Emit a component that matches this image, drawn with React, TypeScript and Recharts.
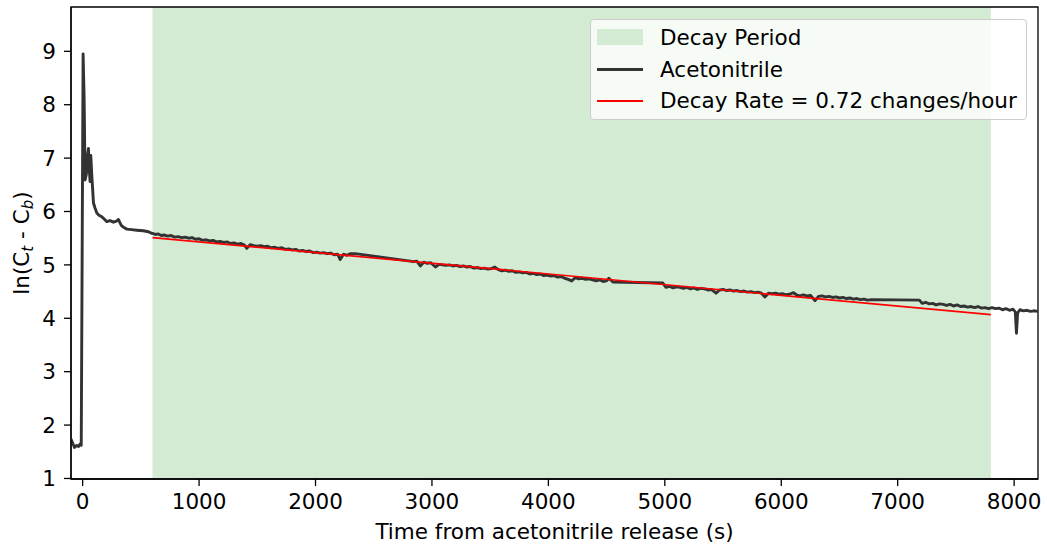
import React from 'react';
import {
  ComposedChart,
  Line,
  XAxis,
  YAxis,
  ReferenceArea,
  Legend,
} from 'recharts';

// Release phase: baseline, injection spike and early mixing (seconds, ln value)
const releaseTimes = [
  -100, -85, -70, -60, -50, -35, -20, -12, 4, 13, 21, 32, 42, 50, 58, 64, 70, 78, 93,
  107, 122, 140, 165, 185, 208, 235, 265, 290, 308, 322, 336, 355, 380, 420, 465, 520, 565, 594,
];
const releaseValues = [
  1.74, 1.66, 1.58, 1.6, 1.62, 1.6, 1.65, 1.62, 8.95, 8.09, 6.59, 6.7, 7.05, 7.18, 6.75, 6.56, 7.05, 6.7, 6.16,
  6.06, 5.97, 5.93, 5.9, 5.86, 5.81, 5.83, 5.8, 5.82, 5.85, 5.78, 5.73, 5.7, 5.67, 5.66, 5.65, 5.64, 5.62, 5.59,
];

// Decay phase (inside the shaded period)
const decayTimes = [
  600, 625, 650, 675, 700, 730, 760, 790, 820, 850, 880, 910, 940, 970, 1000, 1030, 1060, 1090, 1120, 1150,
  1180, 1210, 1240, 1270, 1300, 1330, 1360, 1390, 1410, 1440, 1470, 1500, 1530, 1560, 1590, 1620, 1650, 1680,
  1710, 1740, 1770, 1800, 1830, 1860, 1890, 1920, 1950, 1980, 2010, 2040, 2070, 2100, 2130, 2160, 2190, 2212,
  2240, 2270, 2300, 2341, 2813, 2840, 2870, 2900, 2930, 2960, 2990, 3030, 3060, 3090, 3120, 3150, 3180, 3210,
  3240, 3270, 3300, 3330, 3360, 3390, 3420, 3450, 3480, 3510, 3540, 3570, 3600, 3630, 3660, 3690, 3720, 3750,
  3780, 3810, 3840, 3870, 3900, 3930, 3960, 3990, 4020, 4050, 4080, 4110, 4140, 4170, 4200, 4230, 4260, 4290,
  4320, 4350, 4380, 4410, 4440, 4470, 4500, 4520, 4554, 4983, 5010, 5040, 5070, 5100, 5130, 5160, 5190, 5220,
  5250, 5280, 5310, 5340, 5370, 5400, 5440, 5470, 5500, 5530, 5560, 5590, 5620, 5650, 5680, 5710, 5740, 5770,
  5800, 5830, 5860, 5890, 5920, 5950, 5980, 6010, 6040, 6070, 6105, 6130, 6160, 6190, 6220, 6250, 6290, 6320,
  6350, 6380, 6410, 6440, 6470, 6500, 6530, 6560, 6590, 6620, 6650, 6680, 6710, 6740, 6775, 7187,
];
const decayValues = [
  5.59, 5.57, 5.58, 5.55, 5.56, 5.54, 5.55, 5.52, 5.53, 5.51, 5.52, 5.5, 5.51, 5.48, 5.49, 5.46, 5.47, 5.45, 5.46, 5.43,
  5.44, 5.42, 5.43, 5.4, 5.41, 5.39, 5.4, 5.37, 5.31, 5.38, 5.36, 5.35, 5.36, 5.34, 5.35, 5.32, 5.33, 5.31,
  5.32, 5.29, 5.3, 5.28, 5.29, 5.26, 5.27, 5.25, 5.26, 5.23, 5.24, 5.22, 5.23, 5.21, 5.22, 5.19, 5.2, 5.1,
  5.2, 5.18, 5.21, 5.21, 5.07, 5.06, 5.07, 4.98, 5.05, 5.03, 5.04, 4.96, 5.01, 5.0, 4.99, 5.0, 4.98, 4.99,
  4.97, 4.98, 4.96, 4.97, 4.94, 4.95, 4.93, 4.94, 4.92, 4.93, 4.96, 4.91, 4.89, 4.9, 4.88, 4.89, 4.86, 4.87,
  4.85, 4.86, 4.83, 4.84, 4.82, 4.83, 4.8, 4.81, 4.79, 4.8, 4.77, 4.78, 4.75, 4.73, 4.7, 4.76, 4.74, 4.75,
  4.73, 4.74, 4.72, 4.7, 4.72, 4.69, 4.7, 4.75, 4.68, 4.66, 4.58, 4.6, 4.57, 4.59, 4.58, 4.56, 4.58, 4.55,
  4.57, 4.54, 4.56, 4.55, 4.53, 4.54, 4.47, 4.53, 4.54, 4.52, 4.53, 4.51, 4.52, 4.5, 4.51, 4.49, 4.5, 4.48,
  4.49, 4.47, 4.4, 4.47, 4.46, 4.47, 4.45, 4.46, 4.44, 4.45, 4.48, 4.44, 4.42, 4.44, 4.42, 4.43, 4.33, 4.41,
  4.42, 4.4, 4.41, 4.39, 4.4, 4.38, 4.39, 4.37, 4.38, 4.36, 4.37, 4.35, 4.36, 4.34, 4.35, 4.34,
];

// Tail after the decay window
const tailTimes = [
  7210, 7240, 7270, 7300, 7330, 7360, 7390, 7420, 7450, 7480, 7510, 7540, 7570, 7600, 7630, 7660, 7690, 7720,
  7750, 7780, 7810, 7840, 7870, 7900, 7930, 7960, 7990, 8010, 8020, 8030, 8050, 8080, 8110, 8140, 8170, 8205,
];
const tailValues = [
  4.28, 4.3, 4.27, 4.28, 4.25, 4.27, 4.26, 4.24, 4.26, 4.23, 4.25, 4.22, 4.23, 4.21, 4.22, 4.2, 4.22, 4.19,
  4.2, 4.18, 4.2, 4.18, 4.19, 4.16, 4.18, 4.15, 4.17, 4.12, 3.72, 4.1, 4.16, 4.14, 4.15, 4.13, 4.14, 4.13,
];

// Linear fit over the decay period
const fitTimes = [600, 7800];
const fitValues = [5.51, 4.07];

const decayStart = 600;
const decayEnd = 7800;

const xTicks = [0, 1000, 2000, 3000, 4000, 5000, 6000, 7000, 8000];
const yTicks = [1, 2, 3, 4, 5, 6, 7, 8, 9];

const acetoData = [...releaseTimes, ...decayTimes, ...tailTimes].map((t, i) => ({
  t,
  v: [...releaseValues, ...decayValues, ...tailValues][i],
}));
const fitData = fitTimes.map((t, i) => ({ t, v: fitValues[i] }));

const FONT = '"DejaVu Sans", sans-serif';
const FS = 21.5;
const GREEN = '#d3ebd3';

const XLabel = () => (
  <text x={554.5} y={539} textAnchor="middle" fontSize={FS} fontFamily={FONT} fill="#000">
    Time from acetonitrile release (s)
  </text>
);

const YLabel = () => {
  const cx = 29;
  const cy = 243;
  return (
    <text
      x={cx}
      y={cy}
      transform={`rotate(-90, ${cx}, ${cy})`}
      textAnchor="middle"
      fontSize={FS}
      fontFamily={FONT}
      fill="#000"
    >
      ln(C
      <tspan dy={4} fontSize={15} fontStyle="italic">t</tspan>
      <tspan dy={-4}> - C</tspan>
      <tspan dy={4} fontSize={15} fontStyle="italic">b</tspan>
      <tspan dy={-4}>)</tspan>
    </text>
  );
};

const LegendBox = () => {
  const row = (center: number, marker: React.ReactNode, text: string) => (
    <div
      style={{
        position: 'absolute',
        left: 0,
        top: center - 15,
        height: 30,
        width: '100%',
        display: 'flex',
        alignItems: 'center',
      }}
    >
      <div style={{ width: 69, position: 'relative', height: 30 }}>{marker}</div>
      <span style={{ fontSize: FS, fontFamily: FONT, color: '#000', whiteSpace: 'nowrap' }}>{text}</span>
    </div>
  );
  return (
    <div
      style={{
        position: 'relative',
        width: 437,
        height: 101,
        boxSizing: 'border-box',
        border: '1px solid #cccccc',
        borderRadius: 4,
        background: 'rgba(255,255,255,0.8)',
      }}
    >
      {row(17, <div style={{ position: 'absolute', left: 6, top: 7, width: 46, height: 16, background: GREEN }} />, 'Decay Period')}
      {row(49, <div style={{ position: 'absolute', left: 6, top: 13.5, width: 46, height: 3, background: '#333333' }} />, 'Acetonitrile')}
      {row(80.5, <div style={{ position: 'absolute', left: 6, top: 14, width: 46, height: 2, background: '#ff0000' }} />, 'Decay Rate = 0.72 changes/hour')}
    </div>
  );
};

export default function App() {
  return (
    <div style={{ position: 'absolute', left: 0, top: 0, width: 1047, height: 546, background: '#fff' }}>
      <ComposedChart
        width={1047}
        height={546}
        margin={{ top: 7, right: 9, bottom: 0, left: 0 }}
        style={{ fontFamily: FONT }}
      >
        <ReferenceArea x1={decayStart} x2={decayEnd} fill={GREEN} fillOpacity={1} stroke="none" ifOverflow="visible" />
        <XAxis
          dataKey="t"
          type="number"
          domain={[-100, 8205]}
          ticks={xTicks}
          allowDataOverflow
          height={67}
          tickSize={7}
          tickMargin={8}
          axisLine={{ stroke: '#000', strokeWidth: 1.3 }}
          tickLine={{ stroke: '#000', strokeWidth: 1.3 }}
          tick={{ fill: '#000', fontSize: FS, fontFamily: FONT }}
          label={XLabel}
        />
        <YAxis
          dataKey="v"
          type="number"
          domain={[0.99, 9.83]}
          ticks={yTicks}
          allowDataOverflow
          width={71}
          tickSize={7}
          tickMargin={8}
          axisLine={{ stroke: '#000', strokeWidth: 1.3 }}
          tickLine={{ stroke: '#000', strokeWidth: 1.3 }}
          tick={{ fill: '#000', fontSize: FS, fontFamily: FONT }}
          label={YLabel}
        />
        <Line
          data={acetoData}
          dataKey="v"
          type="linear"
          stroke="#333333"
          strokeWidth={2.9}
          strokeLinejoin="round"
          dot={false}
          activeDot={false}
          isAnimationActive={false}
          name="Acetonitrile"
        />
        <Line
          data={fitData}
          dataKey="v"
          type="linear"
          stroke="#ff0000"
          strokeWidth={1.7}
          dot={false}
          activeDot={false}
          isAnimationActive={false}
          name="Decay Rate = 0.72 changes/hour"
        />
        <ReferenceArea
          x1={-100}
          x2={8205}
          y1={0.99}
          y2={9.83}
          fill="none"
          stroke="#000"
          strokeWidth={1.3}
          ifOverflow="visible"
        />
        <Legend
          layout="vertical"
          align="center"
          verticalAlign="middle"
          content={LegendBox}
          wrapperStyle={{ left: 590, top: 19, width: 437, height: 101 }}
        />
      </ComposedChart>
    </div>
  );
}
